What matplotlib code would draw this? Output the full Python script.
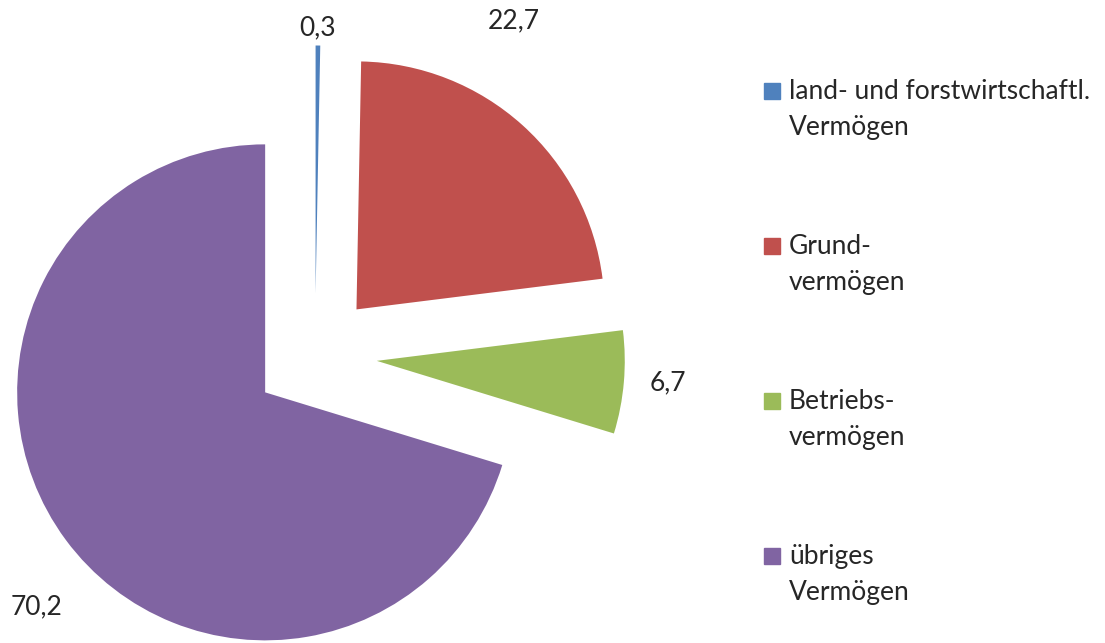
import matplotlib.pyplot as plt
from matplotlib.patches import Rectangle

# Anteile am Vermögen in %
kategorien = ['land- und forstwirtschaftl.\nVermögen', 'Grund-\nvermögen',
              'Betriebs-\nvermögen', 'übriges\nVermögen']
werte = [0.3, 22.7, 6.7, 70.2]
wert_labels = ['0,3', '22,7', '6,7', '70,2']
farben = ['#4F81BD', '#C0504D', '#9BBB59', '#8064A2']

plt.rcParams['font.family'] = ['Lato', 'DejaVu Sans']

W, H = 1105, 643
fig = plt.figure(figsize=(W / 100, H / 100), dpi=100)
ax = fig.add_axes([0, 0, 1, 1])

# pie center and radius in pixels
cx, cy, r = 315, 355.5, 248
ax.pie(werte, explode=[0.25] * 4, startangle=90, counterclock=False,
       colors=farben, radius=1, wedgeprops={'linewidth': 0})
ax.set_xlim(-cx / r, (W - cx) / r)
ax.set_ylim(-(H - cy) / r, cy / r)
ax.axis('off')

# Datenbeschriftungen (Pixelposition)
label_pos = [(318, 28), (514, 21), (668, 383), (37, 607)]
for txt, (px, py) in zip(wert_labels, label_pos):
    fig.text(px / W, 1 - py / H, txt, fontsize=19, color='#262626',
             ha='center', va='center')

# Legende
for i, (name, col) in enumerate(zip(kategorien, farben)):
    y0 = 91 + i * 155
    fig.patches.append(Rectangle((764 / W, 1 - (y0 + 8) / H), 16 / W, 16 / H,
                                 transform=fig.transFigure, color=col))
    fig.text(789 / W, 1 - (y0 - 12) / H, name, fontsize=19, color='#262626',
             ha='left', va='top', linespacing=1.55)

fig.savefig('out.png', dpi=100)
